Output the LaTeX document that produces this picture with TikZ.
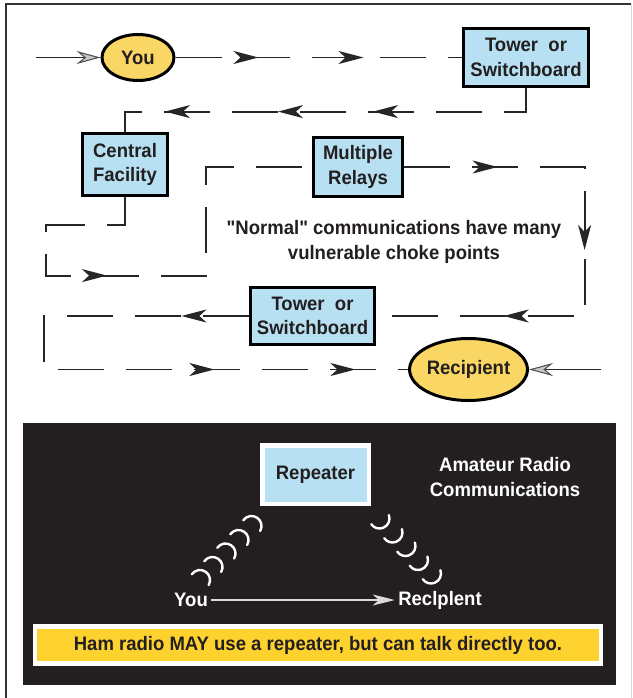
\documentclass[tikz,border=0pt]{standalone}
\usepackage{fontspec}
\setmainfont{Liberation Sans}
\newfontfamily\lblfont{Liberation Sans}[FakeStretch=0.95]
\usetikzlibrary{arrows.meta,shapes.geometric,decorations.markings}
\definecolor{boxblue}{HTML}{B7E1F3}
\definecolor{ellyellow}{HTML}{FAD664}
\definecolor{banyellow}{HTML}{FDD22F}
\definecolor{panelbg}{HTML}{231F20}
\definecolor{txtdark}{HTML}{231F20}
\tikzset{
  lbl/.style={font=\lblfont\fontsize{19.5}{24.5}\selectfont\bfseries, text=txtdark, align=center},
  box/.style={lbl, draw=black, line width=3.2pt, fill=boxblue, inner sep=0pt},
  oval/.style={lbl, ellipse, draw=black, line width=3pt, fill=ellyellow, inner sep=0pt},
  conn/.style={draw=black!85, line width=1.9pt, dash pattern=on 46pt off 22pt},
  midtip/.tip={Stealth[length=25pt,width=13pt,inset=7pt]},
  mk/.style={postaction={decorate,decoration={markings,mark=at position #1 with {\arrow{midtip}}}}},
  entry/.style={draw=black!85, line width=1.9pt, -{Stealth[length=24pt,width=13pt,inset=8pt,fill=gray!45,color=black!70,line width=1pt]}},
  wave/.style={draw=white, line width=2.4pt, line cap=round},
  frameline/.style={draw=black!80, line width=2pt}
}
\begin{document}
\begin{tikzpicture}[x=1pt,y=-1pt]
\useasboundingbox (0,0) rectangle (632,698);
\fill[white] (0,0) rectangle (632,698);
% outer frame
\draw[frameline] (6,698) -- (6,4) -- (631,4);
\draw[draw=black!15, line width=1pt] (631,4) -- (631,698);

% upper flow nodes
\node[oval, minimum width=72pt, minimum height=46pt] (you) at (138,57.5) {You};
\node[box, minimum width=125pt, minimum height=58pt] (tow1) at (526,57.5) {Tower\ \ or\\Switchboard};
\node[box, minimum width=85pt, minimum height=62pt] (cen) at (125,164.5) {Central\\Facility};
\node[box, minimum width=89pt, minimum height=59pt] (rel) at (358,167) {Multiple\\Relays};
\node[box, minimum width=124pt, minimum height=57pt] (tow2) at (312.5,316) {Tower\ \ or\\Switchboard};
\node[oval, minimum width=116pt, minimum height=62pt] (rec) at (468.5,369.5) {Recipient};
\node[lbl] (note) at (394,242) {"Normal" communications have many\\vulnerable choke points};

\coordinate (inY) at (36,57.5);
\coordinate (inR) at (601,369.5);

% connectors
\draw[entry] (inY) -- (you.west);
\draw[entry] (inR) -- (rec.east);
\draw[conn, mk=83pt, mk=188pt] (you.east) -- (tow1.west);
\draw[conn, mk=176.5pt, mk=271.5pt, mk=384.5pt] (tow1.south) -- ++(0,23.5) -| (cen.north);
\draw[conn, mk=218.5pt] (cen.south) -- ++(0,27.5) -- ++(-79,0) -- ++(0,51) -- ++(160,0) |- (rel.west);
\draw[conn, mk=93.5pt, mk=263.5pt, mk=410.5pt] (rel.east) -- ++(180.5,0) |- (tow2.east);
\draw[conn, mk=67.5pt, mk=428pt, mk=569pt] (tow2.west) -- ++(-204.5,0) |- (rec.west);

% lower panel
\fill[panelbg] (23,423) rectangle (616,685);
\node[lbl, draw=white, line width=4.5pt, fill=boxblue, inner sep=0pt, minimum width=106.5pt, minimum height=58.5pt] (rep) at (315.5,474.5) {Repeater};
\node[lbl, text=white] (ham) at (505,477) {Amateur Radio\\Communications};
\node[lbl, text=white] (you2) at (191,600) {You};
\node[lbl, text=white] (rec2) at (440,600) {Reclplent};
\draw[draw=white!85!black, line width=2pt, -{Stealth[length=22pt,width=11pt,inset=6pt]}] (you2.east) -- (rec2.west);
\node[lbl, draw=white, line width=4.5pt, fill=banyellow, inner sep=0pt, minimum width=566pt, minimum height=37pt] (ban) at (318,645) {Ham radio MAY use a repeater, but can talk directly too.};

% radio waves
\foreach \p in {(200,580),(212.5,567),(225.5,553.5),(238.5,540),(251.5,526)}
  \draw[wave] \p ++(145:10pt) arc[start angle=145,end angle=-30,radius=10pt];
\foreach \p in {(379.5,518.5),(392.5,532.5),(405.5,546),(418,560),(431,573.5)}
  \draw[wave] \p ++(20:10pt) arc[start angle=20,end angle=-145,radius=10pt];
\end{tikzpicture}
\end{document}
